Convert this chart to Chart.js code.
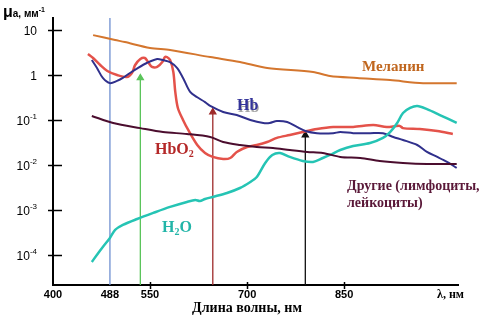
<!DOCTYPE html>
<html>
<head>
<meta charset="utf-8">
<script src="https://cdn.jsdelivr.net/npm/chart.js@4.4.0/dist/chart.umd.min.js"></script>
<style>
  html, body { margin: 0; padding: 0; background: #fff; }
</style>
</head>
<body>
<canvas id="graficoAbsorcao" width="490" height="325"></canvas>
<script>
// wavelength (nm) / absorption coefficient (1/mm) for each absorber
var melaninNm = [462, 496, 511, 550, 581, 643, 689, 731, 802, 828, 870, 921, 972, 1024];
var melaninMu = [7.7, 6.0, 5.4, 4.0, 3.6, 2.5, 1.94, 1.43, 1.17, 0.95, 0.86, 0.77, 0.66, 0.66];

var hbNm = [460, 468, 477, 488, 499, 508, 519, 531, 545, 561, 570, 581, 592, 601, 612, 623, 635, 643,
            663, 684, 705, 725, 735, 746, 762, 777, 790, 808, 833, 844, 864, 890, 910, 926, 941, 963,
            978, 994, 1009, 1024];
var hbMu = [2.15, 1.43, 0.86, 0.66, 0.74, 0.86, 1.11, 1.43, 1.85, 2.27, 2.15, 1.94, 1.43, 0.86, 0.42,
            0.32, 0.25, 0.205, 0.151, 0.129, 0.10, 0.086, 0.086, 0.095, 0.090, 0.070, 0.057, 0.051,
            0.051, 0.054, 0.051, 0.051, 0.051, 0.042, 0.036, 0.0278, 0.0195, 0.0151, 0.0117, 0.0086];

var hbo2Nm = [454, 462, 473, 484, 499, 514, 522, 527, 535, 542, 547, 553, 561, 569, 573, 576, 581, 586,
              589, 593, 601, 609, 623, 635, 647, 663, 674, 684, 700, 715, 731, 746, 766, 786, 808,
              833, 864, 895, 916, 936, 941, 967, 994, 1018];
var hbo2Mu = [2.93, 2.39, 1.67, 1.23, 1.0, 0.90, 1.11, 1.67, 2.27, 2.39, 1.94, 1.51, 1.51, 1.94, 2.51,
              2.51, 2.15, 1.17, 0.42, 0.185, 0.10, 0.060, 0.0278, 0.0185, 0.0151, 0.0136, 0.0143,
              0.0195, 0.0251, 0.0278, 0.0324, 0.040, 0.0464, 0.054, 0.063, 0.070, 0.070, 0.077,
              0.070, 0.074, 0.066, 0.063, 0.057, 0.049];

var outrosNm = [460, 493, 535, 570, 607, 643, 663, 689, 715, 740, 766, 793, 817, 844, 875, 905, 941, 978, 1024];
var outrosMu = [0.123, 0.086, 0.066, 0.054, 0.049, 0.042, 0.0324, 0.0278, 0.0251, 0.0239, 0.0215,
                0.0195, 0.0185, 0.0151, 0.0143, 0.0123, 0.0111, 0.0105, 0.0105];

var aguaNm = [460, 470, 477, 488, 496, 508, 530, 555, 581, 607, 620, 627, 635, 647, 669, 689, 705, 715,
              728, 739, 751, 766, 786, 802, 817, 828, 844, 864, 890, 910, 921, 932, 941, 952, 963,
              978, 998, 1024];
var aguaMu = [7.0e-5, 1.11e-4, 1.51e-4, 2.39e-4, 3.6e-4, 4.64e-4, 6.3e-4, 8.6e-4, 1.17e-3, 1.51e-3,
              1.67e-3, 1.58e-3, 1.75e-3, 1.95e-3, 2.39e-3, 3.08e-3, 4.2e-3, 5.4e-3, 0.0111, 0.0167,
              0.0185, 0.0151, 0.0123, 0.0117, 0.0143, 0.0167, 0.0215, 0.0264, 0.0308, 0.040, 0.054,
              0.086, 0.143, 0.185, 0.205, 0.175, 0.129, 0.086];

// laser lines: wavelength and top of each mark
var laserNm = [488, 535, 647, 790];
var laserTopo = [18.5, 0.86, 0.15, 0.046];
var laserCor = ['#6f8fd0', '#5ac45a', '#9e2a2a', '#111111'];
var laserSeta = [false, true, true, true];

var xTicks = [400, 488, 550, 700, 850];
var xTicksMarca = [550, 700, 850];
var yTicks = [10, 1, 0.1, 0.01, 0.001, 0.0001];
var yTicksBase = ['10', '1', '10', '10', '10', '10'];
var yTicksExp = ['', '', '-1', '-2', '-3', '-4'];

var Y_MIN = 2.15e-5;
var Y_MAX = 18.5;

function pares(xs, ys) {
	return xs.map(function(x, i) { return { x: x, y: ys[i] }; });
}

function curva(xs, ys, cor, largura) {
	return {
		data: pares(xs, ys),
		borderColor: cor,
		borderWidth: largura,
		pointRadius: 0,
		tension: 0.3,
		fill: false
	};
}

var _datasets = [
	curva(melaninNm, melaninMu, '#d4762e', 2),
	curva(outrosNm, outrosMu, '#4b0d2e', 2),
	curva(aguaNm, aguaMu, '#25c4b4', 2.5),
	curva(hbNm, hbMu, '#30308c', 2),
	curva(hbo2Nm, hbo2Mu, '#e4524a', 2.5)
];

laserNm.forEach(function(nm, i) {
	_datasets.push({
		data: [{ x: nm, y: Y_MIN }, { x: nm, y: laserTopo[i] }],
		borderColor: laserCor[i],
		borderWidth: 1.3,
		pointRadius: [0, laserSeta[i] ? 3.5 : 0],
		pointStyle: 'triangle',
		pointBackgroundColor: laserCor[i],
		pointBorderColor: laserCor[i],
		tension: 0
	});
});

function texto(ctx, t, x, y, fonte, cor, alinhar) {
	ctx.font = fonte;
	ctx.fillStyle = cor;
	ctx.textAlign = alinhar || 'left';
	ctx.textBaseline = 'alphabetic';
	ctx.fillText(t, x, y);
	return ctx.measureText(t).width;
}

var rotulos = {
	id: 'rotulos',
	afterDraw: function(chart) {
		var ctx = chart.ctx;
		var area = chart.chartArea;
		var escalaX = chart.scales.x;
		var escalaY = chart.scales.y;
		var serif = '"Liberation Serif", "Times New Roman", serif';
		var sans = '"Liberation Sans", Arial, sans-serif';

		ctx.save();
		ctx.strokeStyle = '#000';
		ctx.lineWidth = 1.5;

		// y tick marks and labels with exponents
		yTicks.forEach(function(v, i) {
			var py = Math.round(escalaY.getPixelForValue(v)) + 0.5;
			ctx.beginPath();
			ctx.moveTo(area.left - 5, py);
			ctx.lineTo(area.left + 9, py);
			ctx.stroke();

			ctx.font = '8px ' + sans;
			var wExp = yTicksExp[i] ? ctx.measureText(yTicksExp[i]).width : 0;
			var direita = 37;
			texto(ctx, yTicksBase[i], direita - wExp, py + 4, '12px ' + sans, '#000', 'right');
			if (yTicksExp[i])
				texto(ctx, yTicksExp[i], direita - wExp, py - 2, '8px ' + sans, '#000');
		});

		// x tick marks
		xTicksMarca.forEach(function(v) {
			var px = Math.round(escalaX.getPixelForValue(v)) + 0.5;
			ctx.beginPath();
			ctx.moveTo(px, area.bottom - 3);
			ctx.lineTo(px, area.bottom + 4);
			ctx.stroke();
		});

		// axis captions
		var w = texto(ctx, 'μ', 3, 17, 'bold 16px ' + sans, '#000');
		w += texto(ctx, 'a, мм', 3 + w, 17, 'bold 10px ' + sans, '#000');
		texto(ctx, '-1', 3 + w, 12, 'bold 7px ' + sans, '#000');

		texto(ctx, 'Длина волны, нм', 247, 312, 'bold 14px ' + serif, '#000', 'center');
		texto(ctx, 'λ, нм', 437, 298, 'bold 12px ' + serif, '#000');

		// series names
		texto(ctx, 'Меланин', 362, 71, 'bold 15px ' + serif, '#c0661e');

		ctx.save();
		ctx.shadowColor = 'rgba(60,60,60,0.45)';
		ctx.shadowOffsetX = 1;
		ctx.shadowOffsetY = 1.5;
		texto(ctx, 'Hb', 237, 110, 'bold 16px ' + serif, '#34349a');
		ctx.restore();

		w = texto(ctx, 'HbO', 155, 154, 'bold 16px ' + serif, '#b42828');
		texto(ctx, '2', 155 + w, 157, 'bold 10px ' + serif, '#b42828');

		w = texto(ctx, 'H', 162, 232, 'bold 16px ' + serif, '#22b5a8');
		w += texto(ctx, '2', 162 + w, 235, 'bold 10px ' + serif, '#22b5a8');
		texto(ctx, 'O', 162 + w, 232, 'bold 16px ' + serif, '#22b5a8');

		texto(ctx, 'Другие (лимфоциты,', 347, 190, 'bold 14px ' + serif, '#5a1838');
		texto(ctx, 'лейкоциты)', 347, 207, 'bold 14px ' + serif, '#5a1838');

		ctx.restore();
	}
};

var _graficoAbsorcao = new Chart(document.getElementById('graficoAbsorcao').getContext('2d'), {
	type: 'line',
	data: { datasets: _datasets },
	options: {
		responsive: false,
		animation: false,
		layout: { padding: { top: 18, right: 32, left: 0, bottom: 0 } },
		plugins: {
			legend: { display: false },
			tooltip: { enabled: false }
		},
		scales: {
			x: {
				type: 'linear',
				min: 400,
				max: 1026,
				afterBuildTicks: function(s) { s.ticks = xTicks.map(function(v) { return { value: v }; }); },
				afterFit: function(s) { s.height = 40; },
				grid: { display: false, drawTicks: false },
				border: { color: '#000', width: 2 },
				ticks: {
					color: '#000',
					font: { family: 'Arial', weight: 'bold', size: 11 },
					padding: 3,
					maxRotation: 0,
					autoSkip: false
				}
			},
			y: {
				type: 'logarithmic',
				min: Y_MIN,
				max: Y_MAX,
				afterBuildTicks: function(s) { s.ticks = yTicks.map(function(v) { return { value: v }; }); },
				afterFit: function(s) { s.width = 53; },
				grid: { display: false },
				border: { color: '#000', width: 2 },
				ticks: { display: false }
			}
		}
	},
	plugins: [rotulos]
});
</script>
</body>
</html>
